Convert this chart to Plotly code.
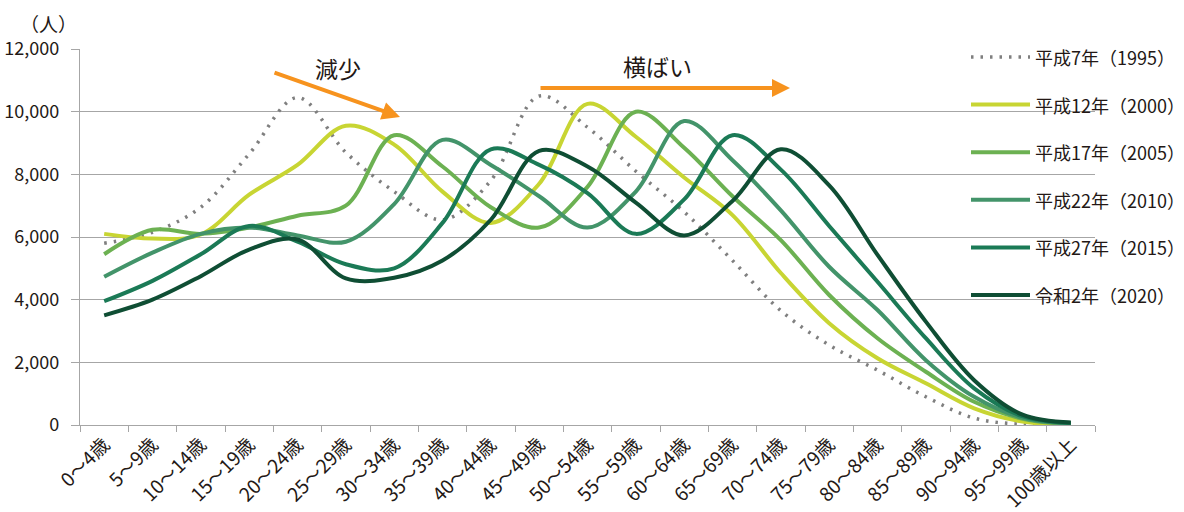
import plotly.graph_objects as go

# ---------------- data ----------------
age_groups = ["0～4歳", "5～9歳", "10～14歳", "15～19歳", "20～24歳", "25～29歳",
              "30～34歳", "35～39歳", "40～44歳", "45～49歳", "50～54歳", "55～59歳",
              "60～64歳", "65～69歳", "70～74歳", "75～79歳", "80～84歳", "85～89歳",
              "90～94歳", "95～99歳", "100歳以上"]

pop_1995 = [5800, 6150, 6950, 8650, 10450, 8700, 7450, 6550, 7800, 10500, 9500,
            8100, 6800, 5250, 3650, 2550, 1750, 900, 220, 20, 5]
pop_2000 = [6100, 5950, 6080, 7350, 8300, 9550, 8950, 7450, 6450, 7700, 10250,
            9200, 7900, 6700, 4850, 3250, 2130, 1330, 530, 110, 15]
pop_2005 = [5450, 6230, 6100, 6300, 6680, 7000, 9250, 8250, 6950, 6300, 7600,
            10000, 8850, 7300, 5900, 4150, 2770, 1700, 740, 200, 30]
pop_2010 = [4730, 5500, 6100, 6300, 6050, 5850, 7050, 9100, 8300, 7300, 6300,
            7450, 9700, 8450, 6850, 5050, 3670, 2070, 900, 230, 45]
pop_2015 = [3950, 4600, 5450, 6350, 5850, 5130, 5000, 6450, 8800, 8300, 7400,
            6100, 7200, 9250, 8150, 6350, 4570, 2770, 1170, 280, 60]
pop_2020 = [3500, 4000, 4750, 5600, 5920, 4680, 4700, 5250, 6550, 8750, 8250,
            7100, 6050, 7150, 8800, 7650, 5430, 3300, 1430, 330, 80]

series_names = ["平成7年（1995）", "平成12年（2000）", "平成17年（2005）",
                "平成22年（2010）", "平成27年（2015）", "令和2年（2020）"]
series_values = [pop_1995, pop_2000, pop_2005, pop_2010, pop_2015, pop_2020]
series_colors = ["#7F7F7F", "#C8D533", "#6CB152", "#43946A", "#1B7A56", "#0F4E34"]
series_dash = ["2.5px,7px", "solid", "solid", "solid", "solid", "solid"]

y_ticks = [0, 2000, 4000, 6000, 8000, 10000, 12000]
y_unit = "（人）"
note_decrease = "減少"
note_flat = "横ばい"

# ---------------- geometry helpers (layout only) ----------------
W, H = 1184, 512
ML, MR, MT, MB = 80, 89, 49, 87
PW, PH = W - ML - MR, H - MT - MB


def px2x(px):
    return (px - ML) / PW


def px2y(py):
    return (H - MB - py) / PH


FONT = "Noto Sans CJK JP, Noto Sans, sans-serif"
TEXT_COLOR = "#231815"
GRID = "#A6A6A6"
ORANGE = "#F7931E"

fig = go.Figure()
for name, vals, col, dash in zip(series_names, series_values, series_colors, series_dash):
    fig.add_trace(go.Scatter(
        x=age_groups, y=vals, name=name, mode="lines",
        line=dict(color=col, width=4 if dash == "solid" else 3.5, dash=dash,
                  shape="spline", smoothing=1.0),
        showlegend=False,
    ))

shapes = []
annotations = []

# white box behind the legend (hides gridlines there)
shapes.append(dict(type="rect", xref="paper", yref="paper",
                   x0=px2x(958), x1=px2x(W + 5), y0=px2y(330), y1=px2y(30),
                   fillcolor="white", line=dict(width=0), layer="between"))

# manual legend
row0, row_gap = 57, 47.6
for k, (name, col, dash) in enumerate(zip(series_names, series_colors, series_dash)):
    yy = px2y(row0 + k * row_gap)
    shapes.append(dict(type="line", xref="paper", yref="paper",
                       x0=px2x(971), x1=px2x(1030), y0=yy, y1=yy,
                       line=dict(color=col, width=4 if dash == "solid" else 3.5, dash=dash),
                       layer="above"))
    annotations.append(dict(xref="paper", yref="paper", x=px2x(1033), y=yy,
                            xanchor="left", yanchor="middle", showarrow=False,
                            text=name, font=dict(family=FONT, size=18, color=TEXT_COLOR)))

# unit label
annotations.append(dict(xref="paper", yref="paper", x=px2x(48), y=px2y(23),
                        xanchor="center", yanchor="middle", showarrow=False,
                        text=y_unit, font=dict(family=FONT, size=19, color=TEXT_COLOR)))

# arrows and notes
annotations.append(dict(xref="paper", yref="paper", x=px2x(400), y=px2y(117),
                        ax=273 - 400, ay=72 - 117, axref="pixel", ayref="pixel",
                        showarrow=True, arrowhead=2, arrowsize=0.9, arrowwidth=4,
                        arrowcolor=ORANGE, text="", standoff=0))
annotations.append(dict(xref="paper", yref="paper", x=px2x(790), y=px2y(88),
                        ax=539 - 790, ay=0, axref="pixel", ayref="pixel",
                        showarrow=True, arrowhead=2, arrowsize=0.9, arrowwidth=4,
                        arrowcolor=ORANGE, text="", standoff=0))
annotations.append(dict(xref="paper", yref="paper", x=px2x(338), y=px2y(68),
                        xanchor="center", yanchor="middle", showarrow=False,
                        text=note_decrease, font=dict(family=FONT, size=23, color=TEXT_COLOR)))
annotations.append(dict(xref="paper", yref="paper", x=px2x(657), y=px2y(66),
                        xanchor="center", yanchor="middle", showarrow=False,
                        text=note_flat, font=dict(family=FONT, size=23, color=TEXT_COLOR)))

fig.update_layout(
    width=W, height=H,
    margin=dict(l=ML, r=MR, t=MT, b=MB, pad=0, autoexpand=False),
    paper_bgcolor="white", plot_bgcolor="white",
    font=dict(family=FONT, color=TEXT_COLOR),
    showlegend=False,
    shapes=shapes, annotations=annotations,
    xaxis=dict(type="category", categoryorder="array", categoryarray=age_groups,
               range=[-0.5, len(age_groups) - 0.5], automargin=False,
               showgrid=False, showline=True, linecolor=GRID, linewidth=1.2,
               ticks="outside", tickson="boundaries", ticklen=6, tickcolor=GRID,
               tickangle=-45, tickfont=dict(family=FONT, size=19, color=TEXT_COLOR)),
    yaxis=dict(range=[0, 12000], tickvals=y_ticks, tickformat=",", automargin=False,
               showgrid=True, gridcolor=GRID, gridwidth=1.2, zeroline=False,
               showline=True, linecolor=GRID, linewidth=1.2,
               ticks="outside", ticklen=8, tickcolor=GRID, ticklabelstandoff=8,
               tickfont=dict(family=FONT, size=18, color=TEXT_COLOR)),
)

fig.write_html("out.html", config={"displayModeBar": False},
               post_script="document.body.style.margin='0';")
